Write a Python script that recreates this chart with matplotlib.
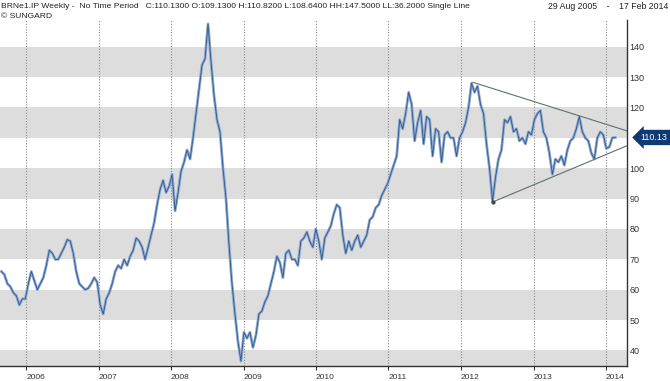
import numpy as np
import pandas as pd
import matplotlib
matplotlib.use("Agg")
import matplotlib.pyplot as plt
import matplotlib.transforms as mtransforms

plt.rcParams['font.family'] = ['Liberation Sans', 'DejaVu Sans']

start_date = '2005-08-29'
end_date = '2014-02-17'

close = [
    66,
    # 2005 Sep-Dec
    65, 62, 61, 59, 58, 55, 57, 57,
    # 2006
    62, 66, 63, 60, 62, 64, 68, 73, 72, 70, 70, 72,
    74, 76.5, 76, 72, 66, 62, 61, 60, 60.5, 62, 64, 62.5,
    # 2007
    55, 52, 57, 59, 62, 66, 68, 67, 70, 68, 71, 73,
    77, 76, 74, 70, 74, 78, 82, 88, 93, 96, 92, 94,
    # 2008
    98, 86, 92, 99, 102, 106, 103, 110, 118, 126, 134, 136,
    147.5, 135, 124, 116, 112, 100, 90, 75, 62, 52, 43, 36.5,
    # 2009
    46, 44, 46, 41, 45, 52, 53, 56, 58, 62, 66, 71,
    69, 64, 72, 73, 70, 70, 68, 76, 77, 79, 76, 74,
    # 2010
    80, 76, 70, 77, 79, 81, 85, 88, 87, 78, 72, 76,
    73, 76, 78, 74, 76, 78, 83, 84, 87, 88, 91, 93,
    # 2011
    95, 98, 101, 104, 116, 113, 118, 125, 121, 109, 115, 119,
    108, 117, 116, 104, 113, 112, 102, 111, 112, 110, 110, 104,
    # 2012
    110, 112, 115, 120, 128, 125, 127, 121, 118, 108, 100, 89,
    97, 103, 106, 116, 115, 117, 112, 113, 109, 110, 108, 112,
    # 2013
    111, 116, 118, 119, 112, 110, 105, 98, 103, 102, 104, 101,
    106, 109, 110, 113, 117, 112, 110, 109, 105, 103, 110, 112,
    # 2014 Jan-Feb
    111, 106.5, 107, 110, 110.13,
]

upper_trend_dates = ['2012-03-01', '2014-04-17']
upper_trend_vals = [128.3, 112.3]
lower_trend_dates = ['2012-06-13', '2014-04-17']
lower_trend_vals = [89, 107.4]

band_lows = [30, 50, 70, 90, 110, 130]
years = list(range(2006, 2015))
# 110 sits under the last-price tag, so it is not labelled
y_ticks = [40, 50, 60, 70, 80, 90, 100, 120, 130, 140]

header = ("BRNe1.IP Weekly -  No Time Period   C:110.1300 O:109.1300 H:110.8200 "
          "L:108.6400 HH:147.5000 LL:36.2000 Single Line")
date_span = "29 Aug 2005    -    17 Feb 2014"

dates = pd.date_range(start_date, end_date, periods=len(close))

fig = plt.figure(figsize=(6.7, 3.81), dpi=100)
ax = fig.add_axes([0.0, 0.0402, 0.9358, 0.9073])

for lo in band_lows:
    ax.axhspan(lo, lo + 10, color='#dddddd', lw=0, zorder=0)

ax.plot(dates, close, color='#8ea8cc', lw=2.0, zorder=3)
ax.plot(dates, close, color='#2c5892', lw=0.6, zorder=4)

ax.plot(pd.to_datetime(upper_trend_dates), upper_trend_vals, color='#607070', lw=0.8, zorder=5)
ax.plot(pd.to_datetime(lower_trend_dates), lower_trend_vals, color='#607070', lw=0.8, zorder=5)
ax.plot(pd.to_datetime(lower_trend_dates[:1]), lower_trend_vals[:1], 'o', color='#404848', ms=2, zorder=6)

ax.set_xlim(pd.Timestamp('2005-08-22'), pd.Timestamp('2014-04-17'))
ax.set_ylim(35.0, 148.8)

xt = [pd.Timestamp(f'{y}-01-01') for y in years]
ax.set_xticks(xt)
ax.set_xticklabels([str(y) for y in years], ha='left')
ax.tick_params(axis='x', direction='out', length=3, width=0.8, color='#333333',
               labelsize=6, labelcolor='#333333', pad=3)
ax.grid(axis='x', linestyle=(0, (1, 1.5)), color='#888888', lw=0.8)

ax.yaxis.tick_right()
ax.set_yticks(y_ticks)
ax.tick_params(axis='y', length=0, pad=2, labelsize=6.5, labelcolor='#333333')

for side in ['top', 'left']:
    ax.spines[side].set_visible(False)
for side in ['right', 'bottom']:
    ax.spines[side].set_color('#333333')
    ax.spines[side].set_linewidth(1)

last_close = close[-1]
trans = mtransforms.blended_transform_factory(ax.transAxes, ax.transData)
ax.text(1.022, last_close, f'{last_close:.2f}', transform=trans, ha='left', va='center',
        fontsize=6.5, color='white', clip_on=False, zorder=10,
        bbox=dict(boxstyle='larrow,pad=0.35', fc='#0e3a74', ec='none'))

fig.text(0.001, 0.984, header, ha='left', va='center', fontsize=6.1, color='#222222')
fig.text(0.001, 0.957, "\u00a9 SUNGARD", ha='left', va='center', fontsize=6.1, color='#222222')
fig.text(0.997, 0.984, date_span, ha='right', va='center', fontsize=6.3, color='#222222')

fig.savefig('out.png', dpi=100)
